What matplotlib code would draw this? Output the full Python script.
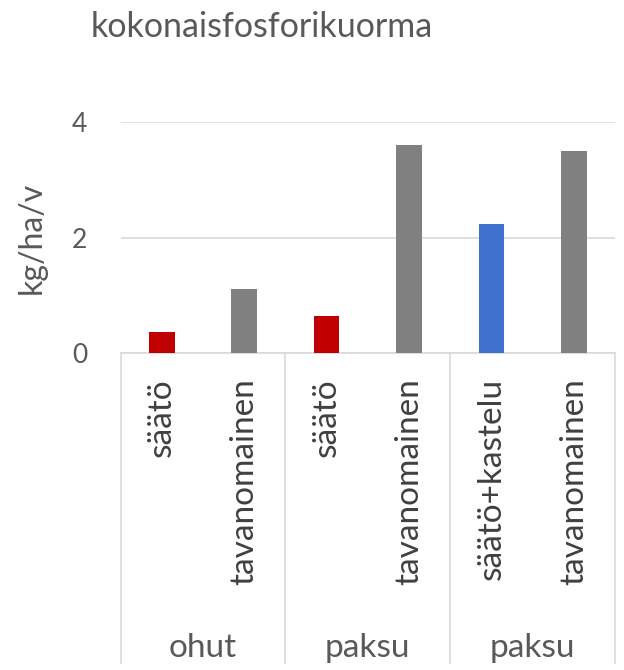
import matplotlib.pyplot as plt
from matplotlib.lines import Line2D

# kokonaisfosforikuorma per käsittely
categories = ["säätö", "tavanomainen", "säätö", "tavanomainen", "säätö+kastelu", "tavanomainen"]
groups = ["ohut", "paksu", "paksu"]
values = [0.36, 1.11, 0.65, 3.60, 2.24, 3.51]
colors = ["#c00000", "#808080", "#c00000", "#808080", "#3f72cf", "#808080"]
yticks = [0, 2, 4]

txt = "#595959"
line_col = "#d9d9d9"
plt.rcParams["font.family"] = ["Lato", "DejaVu Sans"]

fig = plt.figure(figsize=(6.24, 6.70), dpi=100)
ax = fig.add_axes([0.1934, 0.4727, 0.7922, 0.3448])

x = list(range(len(values)))
ax.bar(x, values, width=0.31, color=colors, zorder=3)

ax.set_xlim(-0.5, len(values) - 0.5)
ax.set_ylim(0, 4)
ax.set_yticks(yticks)
ax.tick_params(axis="y", length=0, labelsize=19, labelcolor=txt, pad=24)
ax.yaxis.grid(True, color=line_col, linewidth=1.2, zorder=0)

ax.set_xticks(x)
ax.set_xticklabels(categories, rotation=90, va="top", fontsize=24, color="#404040")
ax.tick_params(axis="x", length=0, pad=18)

for s in ["top", "right", "left"]:
    ax.spines[s].set_visible(False)
ax.spines["bottom"].set_color(line_col)
ax.spines["bottom"].set_linewidth(1.2)

ax.set_ylabel("kg/ha/v", fontsize=23, color=txt)
ax.yaxis.set_label_coords(-0.15, 0.5)
fig.text(262 / 624, 1 - 27 / 670, "kokonaisfosforikuorma", ha="center", va="center",
         fontsize=24.5, color=txt)

# ryhmien erottimet ja ryhmänimet
tr = ax.get_xaxis_transform()
for b in [-0.5, 1.5, 3.5, 5.5]:
    ax.add_line(Line2D([b, b], [0, -1.34], transform=tr, color=line_col,
                       linewidth=1.2, clip_on=False))
for i, g in enumerate(groups):
    ax.text(2 * i + 0.5, -1.275, g, transform=tr, ha="center", va="center",
            fontsize=24, color=txt)

fig.savefig("out.png", dpi=100, facecolor="white")
